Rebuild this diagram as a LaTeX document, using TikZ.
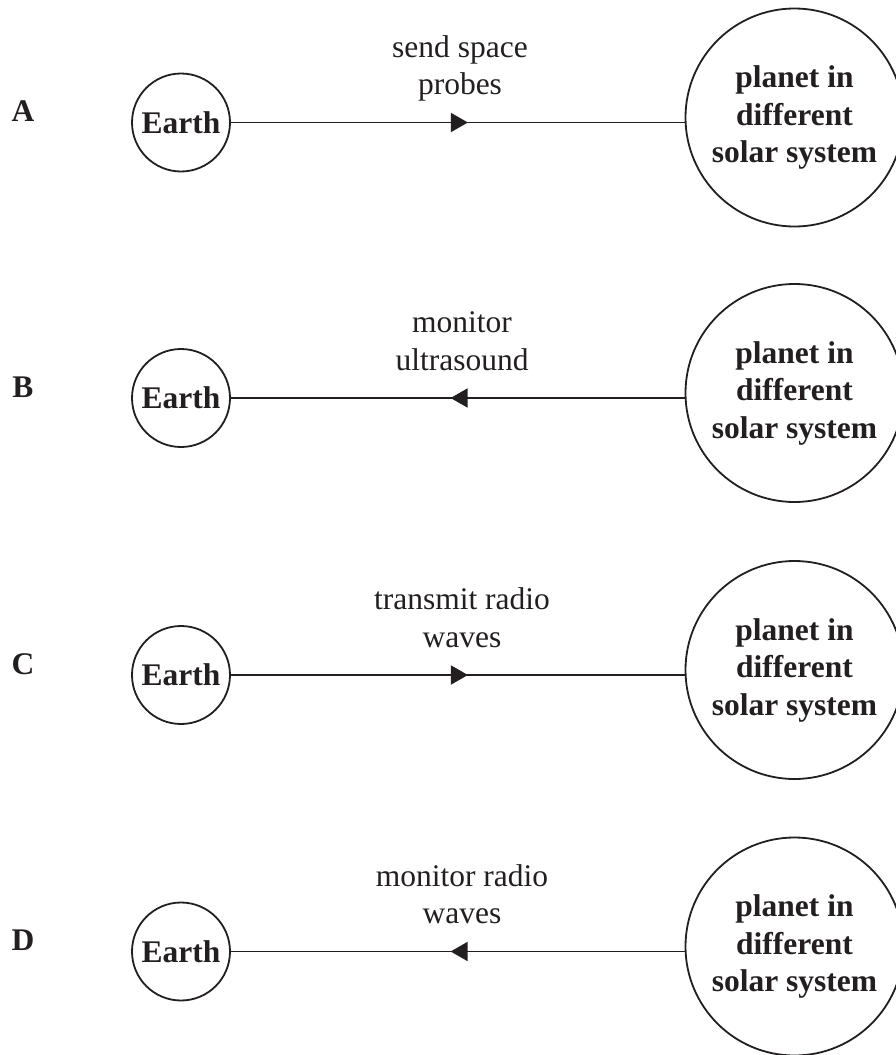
\documentclass[tikz,border=0pt]{standalone}
\usepackage{fontspec}
\setmainfont{Liberation Serif}
\usetikzlibrary{arrows.meta,decorations.markings}
\definecolor{ink}{RGB}{35,31,32}
\begin{document}
\begin{tikzpicture}[x=1pt,y=-1pt,
  txt/.style={font=\fontsize{31.5}{37.5}\selectfont, text=ink},
  earth/.style={circle,draw=ink,line width=1.8pt,minimum size=98pt,inner sep=0pt,
    txt,font=\fontsize{31.5}{37.5}\selectfont\bfseries},
  planet/.style={circle,draw=ink,line width=1.8pt,minimum size=218pt,inner sep=0pt,
    align=center,font=\fontsize{31.5}{37.5}\selectfont\bfseries,text=ink},
  letter/.style={font=\fontsize{31.5}{37.5}\selectfont\bfseries,text=ink},
  lab/.style={txt,anchor=base,inner sep=0pt},
  conn/.style={draw=ink,line width=1.8pt},
  fwd/.style={postaction={decorate},decoration={markings,
    mark=at position 237pt with {\arrow{Triangle[length=17pt,width=19pt]}}}},
  bwd/.style={postaction={decorate},decoration={markings,
    mark=at position 234pt with {\arrow{Triangle[length=17pt,width=19pt]}}}}
]
\clip (0,0) rectangle (896,1055);
\foreach \r/\y in {A/122.5,B/398,C/675,D/951.5}{
  \node[letter] (let\r) at (23,\y-11) {\r};
  \node[earth] (earth\r) at (181,\y) {Earth};
  \node[planet] (planet\r) at (794.5,\y-5) {planet in\\different\\solar system};
}
\node[lab] (labA) at (460,122.5-28) {\begin{tabular}[b]{@{}c@{}}send space\\probes\end{tabular}};
\node[lab] (labB) at (462,398-28) {\begin{tabular}[b]{@{}c@{}}monitor\\ultrasound\end{tabular}};
\node[lab] (labC) at (462,675-28) {\begin{tabular}[b]{@{}c@{}}transmit radio\\waves\end{tabular}};
\node[lab] (labD) at (462,951.5-28) {\begin{tabular}[b]{@{}c@{}}monitor radio\\waves\end{tabular}};
\draw[conn,fwd] (earthA) -- (earthA -| planetA.west);
\draw[conn,bwd] (earthB -| planetB.west) -- (earthB);
\draw[conn,fwd] (earthC) -- (earthC -| planetC.west);
\draw[conn,bwd] (earthD -| planetD.west) -- (earthD);
\end{tikzpicture}
\end{document}
